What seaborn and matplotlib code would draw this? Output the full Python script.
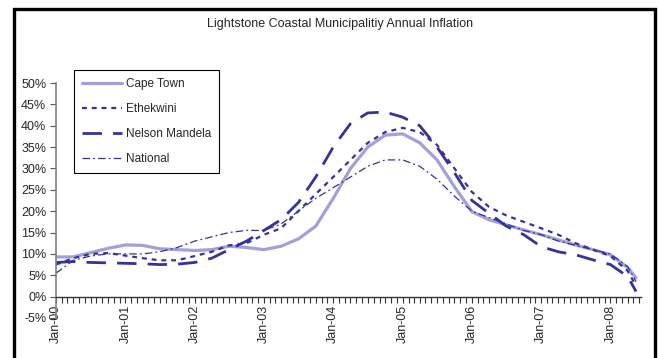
import seaborn as sns
import pandas as pd
import numpy as np
import matplotlib.pyplot as plt
import matplotlib.dates as mdates
from matplotlib.patches import Rectangle
from matplotlib.ticker import FuncFormatter

# fechas trimestrales + ultimo punto (may-08)
dates = list(pd.date_range("2000-01-01", "2008-04-01", freq="QS")) + [pd.Timestamp("2008-05-15")]

cape_town = [9.3, 9.3, 10.3, 11.3, 12.1, 12.0, 11.2, 11.0, 10.8, 11.0, 11.8, 11.5,
             11.0, 11.8, 13.5, 16.5, 23.0, 30.0, 35.0, 37.8, 38.1, 36.0, 32.0, 25.7,
             19.9, 18.0, 16.8, 15.6, 14.5, 13.3, 12.1, 11.0, 9.8, 6.8, 4.4]
ethekwini = [7.5, 9.0, 10.0, 10.2, 9.6, 9.0, 8.5, 8.5, 9.5, 10.5, 12.0, 12.5,
             14.5, 16.0, 20.0, 24.0, 28.0, 32.0, 36.0, 38.5, 39.5, 38.5, 35.5, 30.0,
             24.5, 21.0, 19.0, 17.5, 16.0, 14.5, 12.5, 11.0, 9.5, 6.0, 2.5]
nelson_mandela = [8.0, 8.2, 8.0, 7.9, 7.8, 7.7, 7.5, 7.6, 8.0, 9.0, 11.0, 13.0,
                  15.5, 18.0, 22.0, 28.0, 35.0, 40.5, 43.0, 43.2, 42.0, 40.0, 35.0, 29.0,
                  22.5, 19.5, 16.5, 14.5, 11.7, 10.5, 9.8, 8.6, 7.5, 4.7, 1.2]
national = [5.5, 8.5, 9.5, 10.0, 10.0, 10.0, 10.5, 11.5, 13.0, 14.0, 15.0, 15.5,
            15.5, 17.0, 20.0, 23.0, 25.5, 28.0, 30.5, 32.0, 32.0, 30.5, 27.5, 23.5,
            20.0, 18.5, 17.0, 15.5, 14.5, 13.0, 12.0, 11.0, 10.0, 7.0, 3.5]

series = {
    "Cape Town": cape_town,
    "Ethekwini": ethekwini,
    "Nelson Mandela": nelson_mandela,
    "National": national,
}
estilos = {
    "Cape Town": dict(color="#a0a0da", lw=2.3, linestyle="-"),
    "Ethekwini": dict(color="#333399", lw=1.6, linestyle=(0, (2.2, 2.2))),
    "Nelson Mandela": dict(color="#333399", lw=2.0, linestyle=(0, (7, 4))),
    "National": dict(color="#333399", lw=0.9, linestyle=(0, (6, 2.5, 1.5, 2.5))),
}

df = pd.DataFrame({"Fecha": dates, **series})

sns.set_style("white")
plt.rcParams["font.family"] = ["Liberation Sans", "DejaVu Sans"]

fig = plt.figure(figsize=(6.6, 3.58), dpi=100)
ax = fig.add_axes([56 / 660, 1 - 318 / 358, 585 / 660, 235 / 358])

for nombre in series:
    sns.lineplot(data=df, x="Fecha", y=nombre, ax=ax, label=nombre, **estilos[nombre])

ax.set_xlim(pd.Timestamp("2000-01-01"), pd.Timestamp("2008-06-10"))
ax.set_ylim(-5, 50)
ax.set_yticks(np.arange(-5, 51, 5))
ax.yaxis.set_major_formatter(FuncFormatter(lambda v, p: f"{v:.0f}%"))

ax.xaxis.set_major_locator(mdates.YearLocator())
ax.xaxis.set_minor_locator(mdates.MonthLocator())
ax.xaxis.set_major_formatter(mdates.DateFormatter("%b-%y"))
ax.spines["bottom"].set_position(("data", 0))
ax.spines["top"].set_visible(False)
ax.spines["right"].set_visible(False)
ax.spines["left"].set_color("#808080")
ax.spines["left"].set_linewidth(1.2)
ax.spines["bottom"].set_color("#333333")
ax.spines["bottom"].set_linewidth(1.0)

ax.tick_params(axis="y", which="major", direction="out", length=4, width=0.8,
               color="#555555", labelsize=9, pad=3, left=True)
ax.tick_params(axis="x", which="both", direction="out", length=4, width=0.8,
               color="#333333", bottom=True)
ax.tick_params(axis="x", which="major", labelsize=9, labelrotation=90, pad=2)
ax.set_xlabel("")
ax.set_ylabel("")

ax.legend(loc="upper left", bbox_to_anchor=(74 / 660, 1 - 70 / 358),
          bbox_transform=fig.transFigure, fontsize=8.5, frameon=True, fancybox=False,
          edgecolor="black", framealpha=1, handlelength=3.4, labelspacing=1.1,
          borderpad=0.7, handletextpad=0.3, borderaxespad=0)
ax.get_legend().get_frame().set_linewidth(0.8)

fig.text(340 / 660, 1 - 24 / 358, "Lightstone Coastal Municipalitiy Annual Inflation",
         ha="center", va="center", fontsize=9)

# marco exterior del grafico
fig.patches.append(Rectangle((14 / 660, -0.05), 641 / 660, 1 - 9 / 358 + 0.05,
                             transform=fig.transFigure, fill=False, lw=2.4,
                             edgecolor="black"))

fig.savefig("out.png", dpi=100)
